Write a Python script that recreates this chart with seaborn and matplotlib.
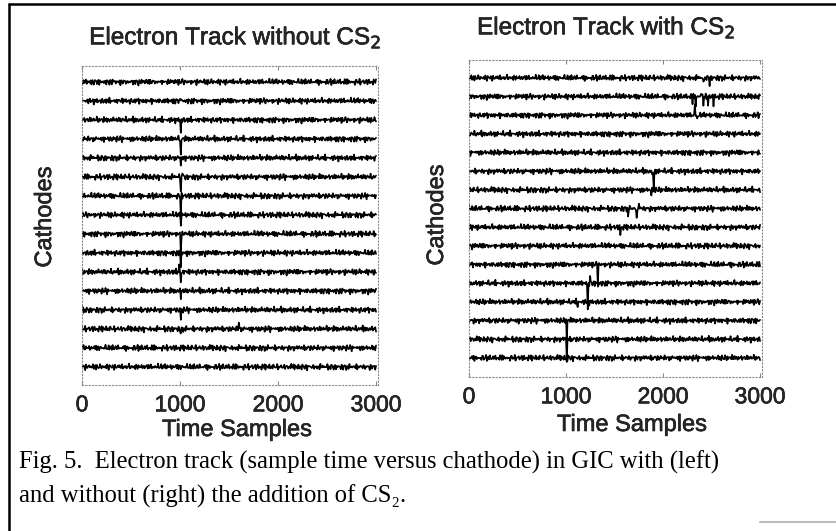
import numpy as np
import pandas as pd
import matplotlib
matplotlib.use("Agg")
import matplotlib.pyplot as plt
import matplotlib.patheffects as pe
import seaborn as sns
from matplotlib.lines import Line2D

# ---- data ----
n_traces = 16
time_max = 3000
time_step = 8

# noise texture (hand-typed, shared by all traces, shifted per trace)
noise_a = [0.3, -0.6, 0.1, 0.8, -0.2, -0.9, 0.4, 0.0, -0.5, 0.7, 0.2, -0.3, 0.9,
           -0.7, 0.1, 0.5, -0.4, -0.1, 0.6, -0.8, 0.3, 0.0, -0.6, 0.4, 0.8, -0.2,
           -0.5, 0.2, 0.7, -0.9, 0.1, 0.4, -0.3, 0.6, -0.1, -0.7, 0.5]
noise_b = [-0.4, 0.7, 0.2, -0.8, 0.5, -0.1, 0.9, -0.6, 0.0, 0.3, -0.5, 0.8, -0.3,
           0.1, -0.9, 0.6, 0.2, -0.2, 0.4, -0.7, 0.9, -0.4, 0.1]

# left panel: track pulses (cathode no. from top, time sample, amplitude in trace spacings)
left_trace = [2, 3, 4, 5, 6, 6, 7, 8, 9, 10, 11, 11, 12, 13, 14, 14]
left_time = [1010, 1010, 1010, 1010, 1010, 1025, 1010, 1010, 1010, 1010, 1010, 995, 1010, 1010, 1010, 1600]
left_amp = [0.2, -0.7, -0.9, -0.4, -0.8, 0.3, -1.0, -0.5, -1.0, -0.8, -0.6, 0.4, -0.4, -0.5, -0.3, 0.3]

# right panel
right_trace = [1, 1, 2, 2, 2, 2, 2, 2, 3, 3, 6, 6, 7, 8, 8, 8, 9, 11, 12, 12, 13, 14, 15, 16]
right_time = [2420, 2480, 2300, 2335, 2390, 2420, 2460, 2520, 2330, 2350, 1890, 1900, 1880,
              1640, 1730, 1750, 1560, 1330, 1225, 1245, 1120, 1010, 1010, 1010]
right_amp = [-0.35, -0.3, -0.3, -0.55, 0.3, -0.45, -0.5, -0.4, 0.6, -0.35, -0.3, -1.0, -0.3,
             -0.45, -0.65, 0.3, -0.35, -1.05, -1.5, 0.3, -0.3, -1.1, -1.1, -0.25]


def build_traces(spk_trace, spk_time, spk_amp, shift):
    t = np.arange(0, time_max + 1, time_step)
    a = np.array(noise_a)
    b = np.array(noise_b)
    rows = []
    for k in range(1, n_traces + 1):
        idx = np.arange(len(t))
        v = (n_traces + 1 - k) + 0.12 * a[(idx + 7 * k + shift) % len(a)] \
            + 0.09 * b[(idx + 11 * k + 3 * shift) % len(b)]
        for tr, ts, am in zip(spk_trace, spk_time, spk_amp):
            if tr == k:
                v[int(round(ts / time_step))] += am
        rows.append(pd.DataFrame({"t": t, "v": v, "trace": k}))
    return pd.concat(rows, ignore_index=True)


df_left = build_traces(left_trace, left_time, left_amp, 0)
df_right = build_traces(right_trace, right_time, right_amp, 5)

sns.set_style("white")
plt.rcParams["font.family"] = ["Liberation Sans", "DejaVu Sans"]

W, H = 836, 531
fig = plt.figure(figsize=(W / 100, H / 100), dpi=100)


def fx(px):
    return px / W


def fy(py):
    return 1 - py / H


# scanned print looks a little heavier than plain text
heavy = [pe.withStroke(linewidth=0.4, foreground="black")]

ax_l = fig.add_axes([fx(82), fy(385), fx(378) - fx(82), fy(66) - fy(385)])
ax_r = fig.add_axes([fx(469), fy(377), fx(762) - fx(469), fy(60) - fy(377)])

for ax, df, ylim in [(ax_l, df_left, (0.05, 16.84)), (ax_r, df_right, (-0.02, 16.96))]:
    sns.lineplot(data=df, x="t", y="v", units="trace", estimator=None,
                 color="black", lw=1.2, ax=ax, legend=False)
    ax.set_xlim(0, 3020)
    ax.set_ylim(*ylim)
    ax.set_yticks([])
    ax.set_xticks([0, 1000, 2000, 3000])
    ax.set_xticklabels(["0", "1000", "2000", "3000"], fontsize=16.5)
    for lab in ax.get_xticklabels():
        lab.set_path_effects(heavy)
    ax.tick_params(axis="x", direction="in", length=3, color="#888888", pad=6,
                   top=True, bottom=True)
    ax.set_xlabel("")
    ax.set_ylabel("")
    for sp in ax.spines.values():
        sp.set_linestyle((0, (1, 2)))
        sp.set_color("#888888")
        sp.set_linewidth(0.8)

# titles and axis labels
txt_kw = dict(ha="center", va="center", path_effects=heavy)
fig.text(fx(235), fy(38), "Electron Track without CS$_2$", fontsize=17.5, **txt_kw)
fig.text(fx(606), fy(28), "Electron Track with CS$_2$", fontsize=17.5, **txt_kw)
fig.text(fx(237), fy(430), "Time Samples", fontsize=17, **txt_kw)
fig.text(fx(632), fy(425), "Time Samples", fontsize=17, **txt_kw)
fig.text(fx(45), fy(217), "Cathodes", rotation=90, fontsize=17, **txt_kw)
fig.text(fx(437), fy(215), "Cathodes", rotation=90, fontsize=17, **txt_kw)

# caption
cap_font = ["Liberation Serif", "DejaVu Serif"]
fig.text(fx(19), fy(462), "Fig. 5.  Electron track (sample time versus chathode) in GIC with (left)",
         ha="left", va="center", fontsize=17.7, family=cap_font, color="black")
fig.text(fx(19), fy(496), "and without (right) the addition of CS\u2082.",
         ha="left", va="center", fontsize=17.7, family=cap_font, color="black")

# outer frame of the scanned figure
fig.add_artist(Line2D([fx(9), fx(9)], [0, fy(4)], color="black", lw=1.8))
fig.add_artist(Line2D([fx(9), 1], [fy(4), fy(4)], color="black", lw=1.8))
fig.add_artist(Line2D([fx(760), 1], [fy(522), fy(522)], color="#bbbbbb", lw=1.5))

fig.savefig("out.png", dpi=100)
